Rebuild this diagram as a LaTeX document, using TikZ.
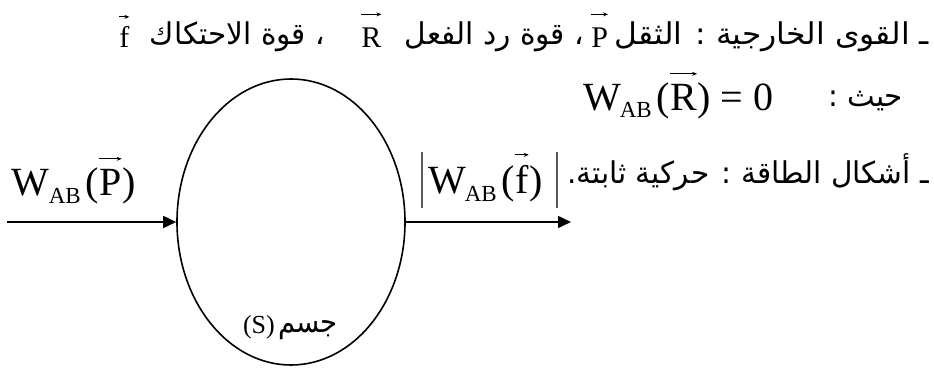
\documentclass[tikz,border=0pt]{standalone}
\usepackage{fontspec}
\usepackage{graphicx}
\setmainfont{Liberation Serif}
\newfontfamily\arabicfont[Script=Arabic]{DejaVu Sans}
\TeXXeTstate=1
\usetikzlibrary{arrows.meta,shapes.geometric}
\newcommand\vecl[2][9pt]{\tikz[x=1cm,y=1cm,baseline=(v.base)]{\node[inner sep=0pt,outer sep=0pt](v){#2};\draw[line width=0.8pt,-{Stealth[length=5pt,width=4pt]}]([yshift=#1]v.north west)--([yshift=#1]v.north east);}}
\newcommand\wab[1]{W\kern-1pt\raisebox{-8pt}{\fontsize{23}{23}\selectfont AB}\kern5pt(#1)}
\tikzset{
  lat/.style={inner sep=0pt, outer sep=0pt, font=\fontsize{30}{32}\selectfont},
  eqn/.style={inner sep=0pt, outer sep=0pt, font=\fontsize{40}{44}\selectfont},
  arb/.style={inner sep=0pt, outer sep=0pt, anchor=base east, font=\arabicfont\fontsize{30}{34}\selectfont},
  conn/.style={line width=1.6pt, -{Triangle[length=13pt,width=12pt]}},
  absbar/.style={line width=1.4pt, black!65}
}
\begin{document}
\begin{tikzpicture}[x=1pt,y=-1pt]
\useasboundingbox (0,0) rectangle (934,369);
% line 1
\node[arb] (l1a) at (929,45) {\resizebox{314pt}{\height}{\beginR ـ القوى الخارجية : الثقل\endR}};
\node[lat, anchor=base west] (l1p) at (591,48) {\vecl[14pt]{P}};
\node[arb] (l1b) at (584,45) {\resizebox{179pt}{\height}{\beginR ، قوة رد الفعل\endR}};
\node[lat, anchor=base west] (l1r) at (361,48) {\vecl[14pt]{R}};
\node[arb] (l1c) at (325,45) {\resizebox{175pt}{\height}{\beginR ، قوة الاحتكاك\endR}};
\node[lat, anchor=base west] (l1f) at (119,48) {\vecl[10pt]{f}};
% line 2
\node[eqn, anchor=base west] (eqR) at (583,110) {\wab{\vecl[10pt]{R}} = 0};
\node[arb] (hayth) at (903,106) {\resizebox{75pt}{\height}{\beginR حيث :\endR}};
% line 3
\node[arb] (l3) at (929,183) {\resizebox{362pt}{\height}{\beginR ـ أشكال الطاقة : حركية ثابتة.\endR}};
% body
\node[draw, ellipse, line width=1.6pt, minimum width=228pt, minimum height=286pt, inner sep=0pt] (S) at (291,222) {};
\node[lat, anchor=base west, font=\fontsize{26}{28}\selectfont] (sl) at (243,333) {(S)};
\node[arb] (jism) at (338,332) {\resizebox{60pt}{\height}{\beginR جسم\endR}};
% flows
\coordinate (in) at (7,222);
\coordinate (out) at (571,222);
\draw[conn] (in) -- (S.west);
\draw[conn] (S.east) -- (out);
\node[eqn, anchor=base west] (wp) at (12,195) {\wab{\vecl[10pt]{P}}};
\node[eqn, anchor=base west] (wf) at (428,193) {\wab{\vecl[10pt]{f}}};
\draw[absbar] (422,152) -- (422,208);
\draw[absbar] (557,152) -- (557,208);
\end{tikzpicture}
\end{document}
